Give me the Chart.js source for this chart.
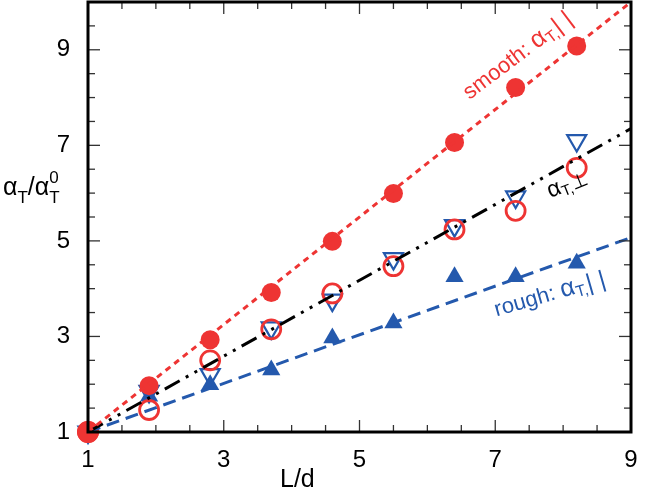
<!DOCTYPE html>
<html>
<head>
<meta charset="utf-8">
<script src="https://cdn.jsdelivr.net/npm/chart.js@4/dist/chart.umd.min.js"></script>
<style>
  html, body { margin: 0; padding: 0; background: #fff; }
  #wrap { width: 646px; height: 500px; }
</style>
</head>
<body>
<div id="wrap"><canvas id="chart" width="646" height="500"></canvas></div>
<script>
// L/d values shared by all measured series
const ld = [1, 1.9, 2.8, 3.7, 4.6, 5.5, 6.4, 7.3, 8.2];

// smooth, parallel (filled red circles)
const smoothPar = [1, 1.97, 2.93, 3.92, 4.99, 5.99, 7.06, 8.21, 9.08];
// smooth, perpendicular (open red circles)
const smoothPerp = [1, 1.46, 2.5, 3.15, 3.9, 4.47, 5.24, 5.63, 6.53];
// rough, perpendicular (open blue down triangles)
const roughPerp = [1, 1.85, 2.2, 3.18, 3.76, 4.63, 5.32, 5.92, 7.1];
// rough, parallel (filled blue up triangles)
const roughPar = [1, 1.75, 1.99, 2.3, 2.97, 3.28, 4.25, 4.25, 4.53];

// fitted lines, end points at L/d = 1 and 9
const fitX = [1, 9];
const fitSmooth = [1, 10];
const fitPerp = [1, 7.35];
const fitRough = [1, 5.07];

const tickLabels = [1, 3, 5, 7, 9];

const RED = '#ee3433';
const BLUE = '#2459ad';

function pts(xs, ys) {
    return xs.map((v, i) => ({ x: v, y: ys[i] }));
}

// draws a run of text pieces (with sub/superscripts) rotated about a point
function drawRich(ctx, parts, x, y, angle, color) {
    ctx.save();
    ctx.translate(x, y);
    ctx.rotate(angle * Math.PI / 180);
    ctx.fillStyle = color;
    ctx.textBaseline = 'alphabetic';
    let cx = 0;
    parts.forEach(p => {
        ctx.font = p.size + 'px "Liberation Sans", Arial, sans-serif';
        ctx.fillText(p.t, cx, p.dy || 0);
        if (!p.noAdvance) cx += ctx.measureText(p.t).width + (p.gap || 0);
    });
    ctx.restore();
}

const framePlugin = {
    id: 'frame',
    afterDatasetsDraw(chart) {
        const { ctx, chartArea: a, scales } = chart;
        const x = scales.x, y = scales.y;
        ctx.save();
        ctx.strokeStyle = '#333';
        ctx.lineWidth = 1.3;
        const line = (x1, y1, x2, y2) => {
            ctx.beginPath(); ctx.moveTo(x1, y1); ctx.lineTo(x2, y2); ctx.stroke();
        };
        for (let v = 1; v <= 9; v += 0.5) {
            const px = x.getPixelForValue(v);
            const len = tickLabels.includes(v) ? 12 : 7;
            line(px, a.bottom, px, a.bottom - len);
            line(px, a.top, px, a.top + len);
        }
        for (let v = 1; v <= 10; v += 0.5) {
            const py = y.getPixelForValue(v);
            const len = tickLabels.includes(v) ? 12 : 7;
            line(a.left, py, a.left + len, py);
            line(a.right, py, a.right - len, py);
        }
        ctx.strokeStyle = '#000';
        ctx.lineWidth = 3;
        ctx.strokeRect(a.left, a.top, a.right - a.left, a.bottom - a.top);

        // line labels
        drawRich(ctx, [
            { t: 'smooth: ', size: 22 },
            { t: 'α', size: 25 },
            { t: 'T,', size: 16, dy: 4 },
            { t: '| |', size: 24, dy: 1 }
        ], x.getPixelForValue(6.62), y.getPixelForValue(7.95), -37, RED);

        drawRich(ctx, [
            { t: 'α', size: 23 },
            { t: 'T,', size: 15, dy: 4 },
            { t: '⊥', size: 19, dy: 2 }
        ], x.getPixelForValue(7.81), y.getPixelForValue(5.9), -22, '#000');

        drawRich(ctx, [
            { t: 'rough: ', size: 22 },
            { t: 'α', size: 25 },
            { t: 'T,', size: 16, dy: 4 },
            { t: '| |', size: 24, dy: 1 }
        ], x.getPixelForValue(7.02), y.getPixelForValue(3.42), -16, BLUE);

        // axis titles
        drawRich(ctx, [
            { t: 'α', size: 25 },
            { t: 'T', size: 17, dy: 8 },
            { t: '/', size: 25 },
            { t: 'α', size: 25 },
            { t: '0', size: 17, dy: -12, noAdvance: true },
            { t: 'T', size: 17, dy: 8 }
        ], 3, 195, 0, '#000');

        drawRich(ctx, [{ t: 'L/d', size: 25 }], 280, 487, 0, '#000');
        ctx.restore();
    }
};

const tickFont = { family: '"Liberation Sans", Arial, sans-serif', size: 24 };

new Chart(document.getElementById('chart'), {
    type: 'scatter',
    data: {
        datasets: [
            {
                label: 'smooth fit',
                data: pts(fitX, fitSmooth),
                showLine: true,
                borderColor: RED,
                borderWidth: 3,
                borderDash: [6, 5],
                pointRadius: 0,
                order: 1
            },
            {
                label: 'perp fit',
                data: pts(fitX, fitPerp),
                showLine: true,
                borderColor: '#000',
                borderWidth: 3,
                borderDash: [17, 7, 3, 7, 3, 7],
                pointRadius: 0,
                order: 2
            },
            {
                label: 'rough fit',
                data: pts(fitX, fitRough),
                showLine: true,
                borderColor: BLUE,
                borderWidth: 3,
                borderDash: [13, 7],
                pointRadius: 0,
                order: 3
            },
            {
                label: 'smooth par',
                data: pts(ld, smoothPar),
                pointStyle: 'circle',
                pointRadius: ld.map((v, i) => i === 0 ? 11 : 9.5),
                backgroundColor: RED,
                borderColor: RED,
                borderWidth: 0,
                clip: false,
                order: 4
            },
            {
                label: 'smooth perp',
                data: pts(ld, smoothPerp),
                pointStyle: 'circle',
                pointRadius: 9.5,
                backgroundColor: 'rgba(0,0,0,0)',
                borderColor: RED,
                borderWidth: 2.8,
                clip: false,
                order: 5
            },
            {
                label: 'rough perp',
                data: pts(ld, roughPerp),
                pointStyle: 'triangle',
                rotation: 180,
                pointRadius: 11,
                backgroundColor: 'rgba(0,0,0,0)',
                borderColor: BLUE,
                borderWidth: 2.2,
                clip: false,
                order: 6
            },
            {
                label: 'rough par',
                data: pts(ld, roughPar),
                pointStyle: 'triangle',
                pointRadius: 10.5,
                backgroundColor: BLUE,
                borderColor: BLUE,
                borderWidth: 0,
                clip: false,
                order: 7
            }
        ]
    },
    options: {
        responsive: false,
        animation: false,
        layout: { autoPadding: false, padding: { left: 0, right: 15, top: 2, bottom: 0 } },
        scales: {
            x: {
                type: 'linear',
                min: 1,
                max: 9,
                grid: { display: false, drawTicks: false },
                border: { display: false },
                ticks: {
                    stepSize: 0.5,
                    autoSkip: false,
                    maxRotation: 0,
                    padding: 14,
                    color: '#000',
                    font: tickFont,
                    callback: v => tickLabels.includes(v) ? String(v) : ''
                },
                afterFit(scale) {
                    scale.height = 68;
                    scale.paddingLeft = 0;
                    scale.paddingRight = 0;
                }
            },
            y: {
                type: 'linear',
                min: 1,
                max: 10,
                grid: { display: false, drawTicks: false },
                border: { display: false },
                ticks: {
                    stepSize: 0.5,
                    autoSkip: false,
                    padding: 18,
                    color: '#000',
                    font: tickFont,
                    callback: v => tickLabels.includes(v) ? String(v) : ''
                },
                afterFit(scale) {
                    scale.width = 88;
                    scale.paddingTop = 0;
                    scale.paddingBottom = 0;
                }
            }
        },
        plugins: {
            legend: { display: false },
            tooltip: { enabled: false }
        }
    },
    plugins: [framePlugin]
});
</script>
</body>
</html>
